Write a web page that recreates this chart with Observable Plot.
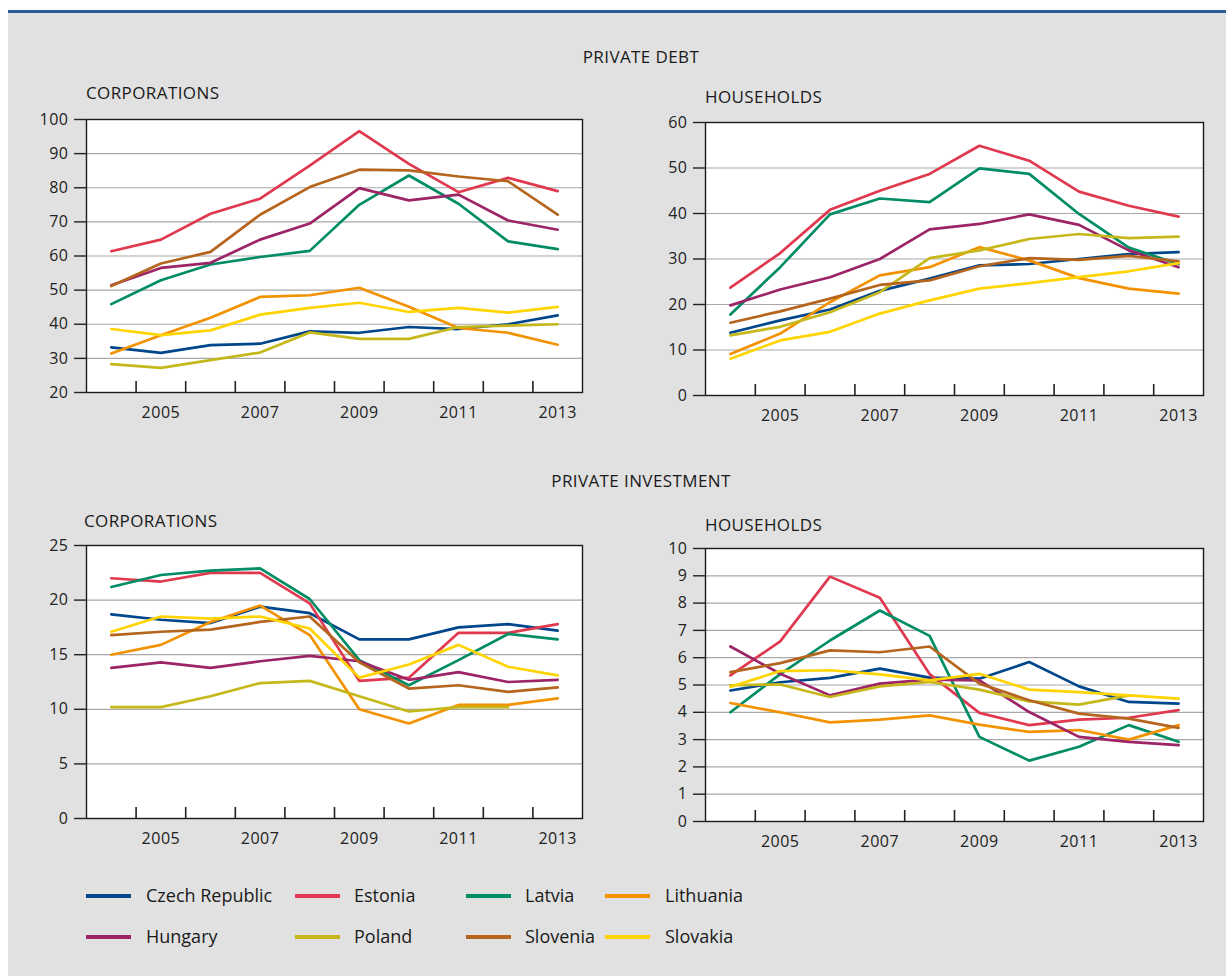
<!DOCTYPE html>
<html><head><meta charset="utf-8">
<script src="https://cdn.jsdelivr.net/npm/d3@7"></script>
<script src="https://cdn.jsdelivr.net/npm/@observablehq/plot@0.6"></script>
<style>
body{margin:0;background:#fff;font-family:"Open Sans",sans-serif;width:1226px;height:976px;position:relative;overflow:hidden}
#bg{position:absolute;left:8px;top:10px;width:1218px;height:966px;background:#e1e1e1;border-top:3px solid #2a5a97}
.t{position:absolute;color:#1a1a1a;font-size:17px;letter-spacing:0.4px;white-space:nowrap;line-height:20px}
.c{transform:translateX(-50%)}
.p{position:absolute}
.lg{position:absolute;font-size:18px;color:#1a1a1a;white-space:nowrap;line-height:24px}
.sw{position:absolute;width:45px;height:4px}
</style></head><body>
<div id="bg"></div>
<div class="t c" style="left:641px;top:47px">PRIVATE DEBT</div>
<div class="t" style="left:86px;top:83px">CORPORATIONS</div>
<div class="t" style="left:705px;top:87px">HOUSEHOLDS</div>
<div class="t c" style="left:641px;top:471px">PRIVATE INVESTMENT</div>
<div class="t" style="left:84px;top:511px">CORPORATIONS</div>
<div class="t" style="left:705px;top:515px">HOUSEHOLDS</div>
<div id="legend"></div>
<script>
const years = [2004,2005,2006,2007,2008,2009,2010,2011,2012,2013];
const countries = ["Czech Republic","Estonia","Latvia","Lithuania","Hungary","Poland","Slovenia","Slovakia"];
const colors = ["#00468b","#e0394f","#008c64","#f39200","#9c2467","#c6b81b","#b5651d","#ffd400"];
const xTickLabels = [2005,2007,2009,2011,2013];

// rows follow the order of `countries`
const debtCorporations = [
  [33.2,31.6,33.9,34.3,37.9,37.5,39.2,38.6,40.0,42.6],
  [61.4,64.8,72.4,76.8,86.5,96.6,87.0,78.7,82.9,79.0],
  [45.9,52.9,57.5,59.7,61.5,75.0,83.6,75.3,64.3,62.0],
  [31.4,36.8,41.9,48.0,48.5,50.7,45.1,38.9,37.5,34.0],
  [51.4,56.5,58.0,64.8,69.5,79.9,76.3,78.0,70.4,67.7],
  [28.3,27.2,29.5,31.7,37.6,35.7,35.7,39.2,39.6,40.0],
  [51.2,57.8,61.2,72.1,80.2,85.3,85.1,83.3,81.9,72.1],
  [38.6,36.8,38.2,42.8,44.8,46.3,43.6,44.8,43.4,45.1]
];
const debtHouseholds = [
  [13.8,16.5,18.9,23.0,25.7,28.6,28.9,30.0,31.1,31.5],
  [23.7,31.3,40.8,45.0,48.7,54.9,51.6,44.8,41.7,39.3],
  [17.8,28.2,39.8,43.3,42.5,49.9,48.7,39.9,32.5,28.9],
  [9.1,13.6,20.5,26.4,28.2,32.6,29.7,25.8,23.5,22.4],
  [19.8,23.3,26.0,30.0,36.5,37.7,39.8,37.5,31.9,28.2],
  [13.2,15.1,18.3,22.7,30.2,31.9,34.4,35.5,34.6,34.9],
  [16.0,18.5,21.3,24.3,25.3,28.4,30.2,29.8,30.7,29.5],
  [8.1,12.1,14.0,18.0,20.9,23.5,24.7,26.0,27.3,29.1]
];
const investCorporations = [
  [18.7,18.2,17.9,19.4,18.8,16.4,16.4,17.5,17.8,17.2],
  [22.0,21.7,22.5,22.5,19.7,12.6,12.9,17.0,17.0,17.8],
  [21.2,22.3,22.7,22.9,20.1,14.5,12.2,14.5,16.9,16.4],
  [15.0,15.9,18.0,19.5,16.8,10.0,8.7,10.4,10.4,11.0],
  [13.8,14.3,13.8,14.4,14.9,14.4,12.7,13.4,12.5,12.7],
  [10.2,10.2,11.2,12.4,12.6,11.2,9.8,10.2,10.2,null],
  [16.8,17.1,17.3,18.0,18.5,14.3,11.9,12.2,11.6,12.0],
  [17.1,18.5,18.3,18.5,17.4,12.9,14.1,15.9,13.9,13.1]
];
const investHouseholds = [
  [4.80,5.10,5.26,5.60,5.27,5.23,5.84,4.95,4.38,4.32],
  [5.35,6.60,8.97,8.20,5.40,3.98,3.53,3.73,3.80,4.08],
  [4.00,5.40,6.63,7.73,6.80,3.10,2.23,2.74,3.53,2.92],
  [4.34,4.00,3.63,3.73,3.89,3.55,3.28,3.35,3.00,3.53],
  [6.41,5.41,4.62,5.05,5.20,5.17,4.01,3.10,2.92,2.80],
  [4.99,5.02,4.56,4.95,5.11,4.83,4.40,4.28,4.62,null],
  [5.47,5.80,6.27,6.20,6.41,5.05,4.44,3.95,3.77,3.43],
  [4.93,5.51,5.54,5.39,5.17,5.41,4.83,4.74,4.62,4.50]
];

function tidy(rows){
  return rows.flatMap((r,i)=>r.map((v,j)=>({country:countries[i], year:years[j], value:v})));
}

function panel(rows, yDomain, yStep, left, top, width){
  const yTicks = d3.range(yDomain[0], yDomain[1]+yStep/2, yStep);
  const halfYears = years.slice(0,-1).map(y=>y+0.5);
  const chart = Plot.plot({
    width, height: 320,
    marginLeft: 60, marginRight: 18, marginTop: 10, marginBottom: 37,
    style: {fontFamily:'"Open Sans",sans-serif', fontSize:"16px", letterSpacing:"0.5px", color:"#222", background:"transparent", overflow:"visible"},
    x: {domain:[2003.5, 2013.5], label:null},
    y: {domain:yDomain, label:null},
    color: {domain:countries, range:colors},
    marks: [
      Plot.frame({fill:"white", stroke:null}),
      Plot.gridY(yTicks, {stroke:"#a8a8a8", strokeOpacity:1, strokeWidth:1.2}),
      Plot.line(tidy(rows), {x:"year", y:"value", z:"country", stroke:"country", strokeWidth:2.7, strokeLinejoin:"miter"}),
      Plot.frame({stroke:"#1a1a1a", strokeWidth:1.4}),
      Plot.axisY(yTicks, {tickSize:12, tickPadding:6, tickFormat:d=>String(d), strokeWidth:1.4}),
      Plot.axisX(halfYears, {tickSize:-11, tickFormat:()=>"", strokeWidth:1.6}),
      Plot.axisX(xTickLabels, {tickSize:0, tickPadding:14, tickFormat:d=>String(d)})
    ]
  });
  chart.classList.add("p");
  chart.style.left = left+"px";
  chart.style.top = top+"px";
  document.body.appendChild(chart);
}

panel(debtCorporations, [20,100], 10, 26, 109, 574);
panel(debtHouseholds, [0,60], 10, 645, 111.5, 576);
panel(investCorporations, [0,25], 5, 26, 535, 574);
panel(investHouseholds, [0,10], 1, 645, 538, 576);

// legend
const lgCols = [[86,146],[295,354],[466,525],[605,665]];
const lgRows = [896, 937];
const lg = document.getElementById("legend");
countries.forEach((c,i)=>{
  const [sx,tx] = lgCols[i%4];
  const cy = lgRows[Math.floor(i/4)];
  const sw = document.createElement("div");
  sw.className="sw"; sw.style.left=sx+"px"; sw.style.top=(cy-2)+"px"; sw.style.background=colors[i];
  lg.appendChild(sw);
  const t = document.createElement("div");
  t.className="lg"; t.style.left=tx+"px"; t.style.top=(cy-13)+"px"; t.textContent=c;
  lg.appendChild(t);
});
</script>
</body></html>
